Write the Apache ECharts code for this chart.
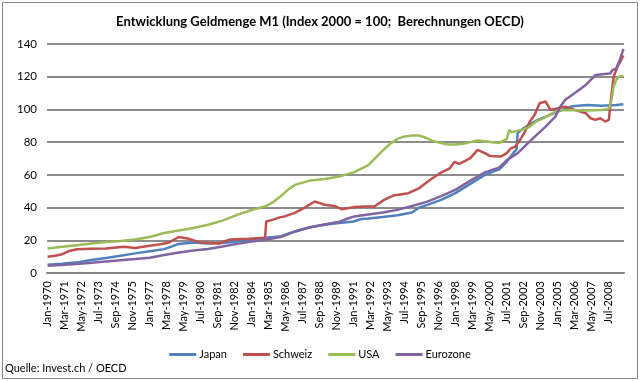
<!DOCTYPE html>
<html>
<head>
<meta charset="utf-8">
<script src="https://cdn.jsdelivr.net/npm/echarts@6/dist/echarts.min.js"></script>
<style>html,body{margin:0;padding:0;background:#fff}#c{width:640px;height:381px}</style>
</head>
<body>
<div id="c"></div>
<script>
var titleText = 'Entwicklung Geldmenge M1 (Index 2000 = 100;  Berechnungen OECD)';
var sourceText = 'Quelle: Invest.ch / OECD';
var seriesNames = ['Japan', 'Schweiz', 'USA', 'Eurozone'];
var monthNames = ['Jan','Feb','Mar','Apr','May','Jun','Jul','Aug','Sep','Oct','Nov','Dec'];
var firstYear = 1970, lastYear = 2009, lastMonth = 7;

var japanDates = ['Jan-1970','Jan-1971','Jan-1972','Jan-1973','Jan-1974','Jan-1975','Jan-1976','Jan-1977','Jan-1978','Jan-1979','Jan-1980','Jan-1981','Jan-1982','Jan-1983','Jan-1984','Jan-1985','Jan-1986','Jan-1987','Jan-1988','Jan-1989','Jan-1990','Jan-1991','Jul-1991','Jan-1992','Jan-1993','Jan-1994','Jan-1995','Jul-1995','Jan-1996','Jan-1997','Jan-1998','Jan-1999','Jan-2000','Jan-2001','Jul-2001','Jan-2002','Mar-2002','Apr-2002','Jul-2002','Jan-2003','Jul-2003','Jan-2004','Jan-2005','Jan-2006','Jan-2007','Jan-2008','Jan-2009','Jul-2009'];
var japanValues = [5,5.6,6.5,8,9.2,10.6,12,13.3,14.6,17.8,18.7,18,18.3,19.3,20.5,21.5,22.5,25.5,28,29.5,30.5,31.5,33,33.3,34.2,35.3,37,40,41.5,44.7,49,54.5,60,63.5,68,74,75.5,85.5,87.5,90.5,93,95,98.7,102,102.7,102.3,102.7,103.2];

var schweizDates = ['Jan-1970','Jul-1970','Jan-1971','Jul-1971','Jan-1972','Jan-1973','Jan-1974','Apr-1975','Jan-1976','Jan-1977','Jul-1977','Jan-1978','May-1978','Jan-1979','Sep-1979','Jun-1980','Feb-1981','Oct-1981','Jun-1982','Mar-1983','Nov-1983','Dec-1984','Jan-1985','Jun-1985','Dec-1985','Apr-1986','Dec-1986','Aug-1987','May-1988','Sep-1988','Jan-1989','Sep-1989','Mar-1990','Feb-1991','Oct-1991','Jun-1992','Feb-1993','Oct-1993','Feb-1994','Oct-1994','Jul-1995','Apr-1996','Dec-1996','Aug-1997','Dec-1997','Apr-1998','Jan-1999','Jul-1999','Jan-2000','May-2000','Feb-2001','Jul-2001','Oct-2001','Feb-2002','Jun-2002','Oct-2002','Feb-2003','Jun-2003','Oct-2003','Mar-2004','Jul-2004','Jul-2005','Mar-2006','Dec-2006','Apr-2007','Aug-2007','Dec-2007','Apr-2008','Jul-2008','Sep-2008','Nov-2008','Feb-2009','May-2009','Jul-2009'];
var schweizValues = [10,10.5,11.5,13.5,14.5,14.8,15,16,15.3,16.7,17.2,18,18.7,22,21,18.7,18.3,18,20.3,20.8,21,21.5,31.5,32.5,34,34.6,36.6,39.7,43.7,42.7,41.7,41,39,40.3,40.7,40.7,44.7,47.5,47.8,48.8,51.9,57,61,64,68,66.7,70.2,75.3,73.3,71.6,71.2,73.3,76,77.3,81.4,86.5,92.6,96.7,103.8,104.8,99.7,101.7,99.7,97.7,94.6,93.6,94.6,92.6,93.6,108,120,126,130,133];

var usaDates = ['Jan-1970','Jan-1971','Jan-1972','Jan-1973','Jan-1974','Jan-1975','Jan-1976','Jan-1977','Jan-1978','Jan-1979','Jan-1980','Jan-1981','Jan-1982','Jan-1983','Jan-1984','Jan-1985','Jul-1985','Jan-1986','Jul-1986','Jan-1987','Jan-1988','Jan-1989','Jan-1990','Jan-1991','Jan-1992','Jan-1993','Jul-1993','Jan-1994','Jul-1994','Jan-1995','Jul-1995','Jan-1996','Jul-1996','Jan-1997','Jul-1997','Jan-1998','Jul-1998','Jan-1999','Jul-1999','Jan-2000','Jul-2000','Jan-2001','Jul-2001','Sep-2001','Nov-2001','Jul-2002','Jan-2003','Jul-2003','Jan-2004','Jul-2004','Jan-2005','Jan-2006','Jan-2007','Jan-2008','Jul-2008','Sep-2008','Nov-2008','Jan-2009','Mar-2009','Jul-2009'];
var usaValues = [15,16,17,18,19,19.5,20.5,22,24.5,26,27.5,29.5,32,35.5,38.5,41,43.5,47,51,54,56.5,57.5,59,61.5,66,75,79,82,83.5,84,84,82.5,80.5,79.5,78.5,78.5,79,80,81,80.5,80,79.5,82,87.5,86,87.5,89,92.5,94.5,97,99.5,99.5,99.3,99.7,100.5,105,114,118,120,120.5];

var euroDates = ['Jan-1970','Jan-1972','Jan-1974','Jan-1976','Jan-1977','Jan-1978','Jan-1979','Jan-1980','Jan-1981','Jan-1982','Jan-1983','Jan-1984','Jan-1985','Jan-1986','Jan-1987','Jan-1988','Jan-1989','Jan-1990','Jul-1990','Jan-1991','Jan-1992','Jan-1993','Jan-1994','Jan-1995','Jan-1996','Jan-1997','Jan-1998','Jan-1999','Jan-2000','Jan-2001','Jul-2001','Apr-2002','Jun-2003','Mar-2004','Nov-2004','Mar-2005','Jul-2005','Mar-2006','Dec-2006','Aug-2007','Apr-2008','Aug-2008','Oct-2008','Jan-2009','Apr-2009','Jul-2009'];
var euroValues = [4.5,5.5,7,8.5,9.3,11,12.5,13.7,14.7,16.2,17.8,19.3,20.5,22,25.4,28,29.7,31.3,33,34.5,35.8,37,38.6,41,43.5,47,51,56.5,61.5,64.5,69,73.3,83.4,89.5,95.6,101.7,105.8,110,115,121,121.7,122,124,125,130,137];

var colors = ['#4F81BD', '#C0504D', '#9BBB59', '#8064A2'];

var categories = [];
for (var y = firstYear; y <= lastYear; y++) {
  for (var m = 0; m < 12; m++) {
    if (y === lastYear && m >= lastMonth) break;
    categories.push(monthNames[m] + '-' + y);
  }
}
function zip(d, v) { return d.map(function (x, i) { return [x, v[i]]; }); }
var seriesData = [zip(japanDates, japanValues), zip(schweizDates, schweizValues), zip(usaDates, usaValues), zip(euroDates, euroValues)];

var font = 'Lato, "Open Sans", sans-serif';
var chart = echarts.init(document.getElementById('c'), null, {renderer: 'canvas'});
chart.setOption({
  animation: false,
  backgroundColor: '#fff',
  color: colors,
  title: {
    text: titleText, left: 'center', top: 10,
    textStyle: {fontFamily: font, fontSize: 13, fontWeight: 'bold', color: '#000'}
  },
  legend: {
    data: seriesNames, bottom: 16, left: 'center',
    icon: 'rect', itemWidth: 27, itemHeight: 3, itemGap: 16,
    textStyle: {fontFamily: font, fontSize: 11, color: '#000', padding: [0,0,0,-2]}
  },
  grid: {left: 47, right: 16, top: 44, bottom: 108, containLabel: false},
  xAxis: {
    type: 'category', data: categories, boundaryGap: true,
    axisLine: {show: true, lineStyle: {color: '#868686', width: 2}},
    axisTick: {show: false},
    axisLabel: {interval: 13, rotate: 90, fontFamily: font, fontSize: 11, color: '#000', margin: 8}
  },
  yAxis: {
    type: 'value', min: 0, max: 140, interval: 20,
    axisLine: {show: false}, axisTick: {show: false},
    axisLabel: {fontFamily: font, fontSize: 11.5, color: '#000', margin: 10},
    splitLine: {lineStyle: {color: '#8c8c8c', width: 2}}
  },
  series: seriesNames.map(function (n, i) {
    return {
      name: n, type: 'line', data: seriesData[i], showSymbol: false, symbol: 'none',
      lineStyle: {width: 2.5, color: colors[i]}, itemStyle: {color: colors[i]}
    };
  }),
  graphic: [
    {type: 'rect', shape: {x: 2.5, y: 2.5, width: 635, height: 376}, style: {fill: 'none', stroke: '#868686', lineWidth: 1}, silent: true},
    {type: 'text', left: 5, top: 363, style: {text: sourceText, font: '11px ' + font, fill: '#000'}}
  ]
});
</script>
</body>
</html>
